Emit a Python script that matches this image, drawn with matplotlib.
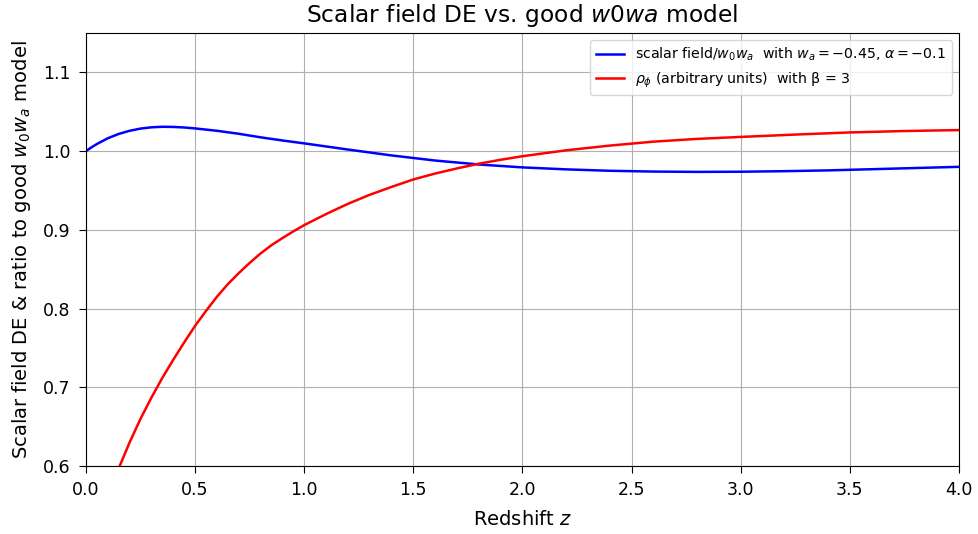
import matplotlib
matplotlib.use("Agg")
import matplotlib.pyplot as plt

z_blue = [0.0, 0.025, 0.05, 0.1, 0.15, 0.2, 0.25, 0.3, 0.35, 0.4, 0.45, 0.5, 0.6,
          0.7, 0.8, 0.9, 1.0, 1.2, 1.4, 1.6, 1.8, 2.0, 2.2, 2.4, 2.6, 2.8, 3.0,
          3.2, 3.4, 3.6, 3.8, 4.0]
ratio = [1.0, 1.0047, 1.009, 1.0163, 1.0218, 1.0258, 1.0286, 1.0302, 1.0309, 1.0307,
         1.030, 1.0288, 1.0258, 1.022, 1.0175, 1.0135, 1.0098, 1.002, 0.9945,
         0.988, 0.983, 0.9793, 0.9768, 0.975, 0.974, 0.9736, 0.9738, 0.9745,
         0.9755, 0.977, 0.9785, 0.980]

z_red = [0.1, 0.15, 0.2, 0.25, 0.3, 0.35, 0.4, 0.45, 0.5, 0.55, 0.6, 0.65, 0.7,
         0.75, 0.8, 0.85, 0.9, 0.95, 1.0, 1.1, 1.2, 1.3, 1.4, 1.5, 1.6, 1.7, 1.8,
         1.9, 2.0, 2.2, 2.4, 2.6, 2.8, 3.0, 3.25, 3.5, 3.75, 4.0]
rho = [0.563, 0.597, 0.630, 0.660, 0.687, 0.712, 0.735, 0.757, 0.778, 0.797,
       0.815, 0.831, 0.845, 0.858, 0.870, 0.8805, 0.8895, 0.898, 0.906, 0.920,
       0.933, 0.9445, 0.9545, 0.964, 0.9715, 0.978, 0.984, 0.989, 0.9935, 1.001,
       1.007, 1.012, 1.0155, 1.018, 1.021, 1.0237, 1.0255, 1.0267]

fig = plt.figure(figsize=(9.79, 5.34), dpi=100)
ax = fig.add_axes([0.0878, 0.1273, 0.8918, 0.8109])
ax.plot(z_blue, ratio, color='blue', lw=1.8,
        label=r'scalar field/$w_0w_a$  with $w_a=-0.45$, $\alpha=-0.1$')
ax.plot(z_red, rho, color='red', lw=1.8,
        label=r'$\rho_\phi$ (arbitrary units)  with β = 3')
ax.set_xlim(0, 4)
ax.set_ylim(0.6, 1.15)
ax.grid(True)
ax.tick_params(labelsize=12.5, length=5, pad=6)
ax.set_xlabel(r'Redshift $z$', fontsize=14, labelpad=8)
ax.set_ylabel(r'Scalar field DE & ratio to good $w_0w_a$ model', fontsize=14, labelpad=7)
ax.set_title(r'Scalar field DE vs. good $w0wa$ model', fontsize=16.8, pad=8)
ax.legend(loc='upper right', fontsize=10.2)
fig.savefig('out.png', dpi=100)
